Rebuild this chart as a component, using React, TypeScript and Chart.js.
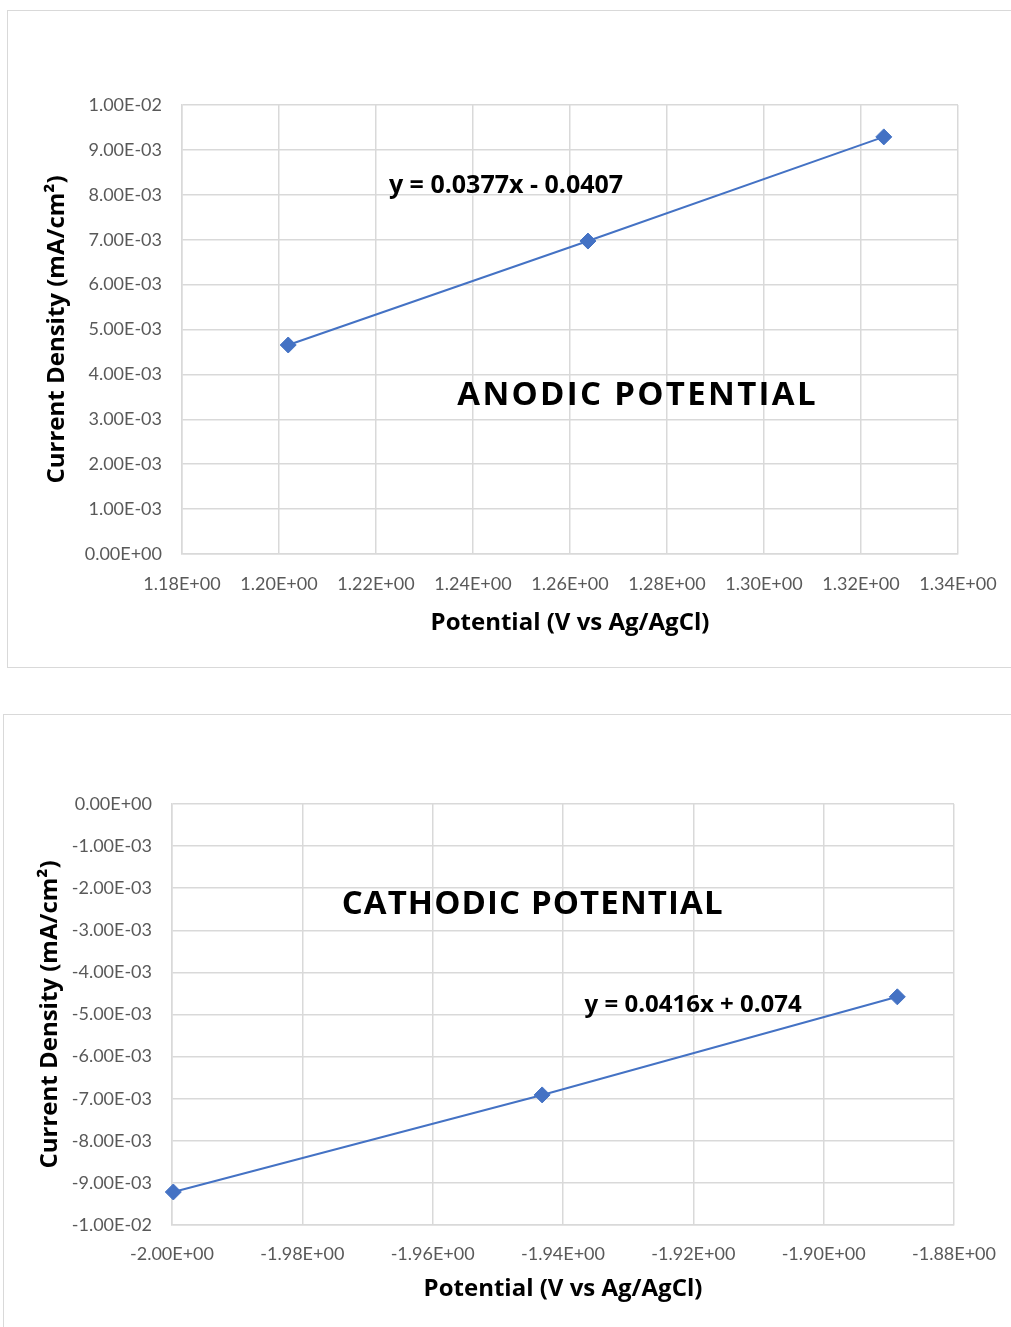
import React, { useEffect, useRef } from "react";
import { Chart, registerables } from "chart.js";

Chart.register(...registerables);

// Anodic polarisation data
const anodicPotential = [1.2019, 1.2637, 1.3247];
const anodicCurrent = [0.004655, 0.00697, 0.00929];
const anodicXTicks = [1.18, 1.2, 1.22, 1.24, 1.26, 1.28, 1.3, 1.32, 1.34];
const anodicYTicks = [0, 0.001, 0.002, 0.003, 0.004, 0.005, 0.006, 0.007, 0.008, 0.009, 0.01];
const anodicEquation = "y = 0.0377x - 0.0407";
const anodicTitle = "ANODIC POTENTIAL";

// Cathodic polarisation data
const cathodicPotential = [-1.9998, -1.9432, -1.8887];
const cathodicCurrent = [-0.009216, -0.00691, -0.00458];
const cathodicXTicks = [-2.0, -1.98, -1.96, -1.94, -1.92, -1.9, -1.88];
const cathodicYTicks = [-0.01, -0.009, -0.008, -0.007, -0.006, -0.005, -0.004, -0.003, -0.002, -0.001, 0];
const cathodicEquation = "y = 0.0416x + 0.074";
const cathodicTitle = "CATHODIC POTENTIAL";

const xAxisTitle = "Potential (V vs Ag/AgCl)";
const yAxisTitle = "Current Density (mA/cm²)";

const FONT = "Lato, 'Open Sans', sans-serif";
const BOLD_FONT = "'Open Sans', 'Noto Sans', sans-serif";
const GRID = "#d9d9d9";
const SERIES = "#4472C4";

// Excel-style scientific notation: 1.00E-02
function sci(v: number): string {
  const s = v.toExponential(2);
  const [m, e] = s.split("e");
  const sign = e[0] === "-" ? "-" : "+";
  const digits = e.replace(/[+-]/, "").padStart(2, "0");
  return `${m}E${sign}${digits}`;
}

type Note = { text: string; x: number; y: number; size: number; spacing: number };

type PanelProps = {
  xs: number[];
  ys: number[];
  xTicks: number[];
  yTicks: number[];
  notes: Note[];
  box: { left: number; top: number; width: number; height: number };
  area: { left: number; top: number; right: number; bottom: number };
  xTitlePad: number;
  yTitlePad: number;
  xTickPad: number;
};

function Panel(props: PanelProps) {
  const ref = useRef<HTMLCanvasElement | null>(null);
  useEffect(() => {
    const canvas = ref.current;
    if (!canvas) return;
    const { box, area } = props;
    const notePlugin = {
      id: "notes",
      afterDraw(chart: any) {
        const ctx = chart.ctx;
        ctx.save();
        ctx.fillStyle = "#000";
        ctx.textAlign = "center";
        ctx.textBaseline = "middle";
        for (const n of props.notes) {
          ctx.font = `bold ${n.size}px ${BOLD_FONT}`;
          (ctx as any).letterSpacing = `${n.spacing}px`;
          const px = chart.scales.x.getPixelForValue(n.x);
          const py = chart.scales.y.getPixelForValue(n.y);
          ctx.fillText(n.text, px + n.spacing / 2, py);
        }
        ctx.restore();
      },
    };
    const chart = new Chart(canvas, {
      type: "scatter",
      data: {
        datasets: [
          {
            data: props.xs.map((x, i) => ({ x, y: props.ys[i] })),
            showLine: true,
            clip: false,
            borderColor: SERIES,
            backgroundColor: SERIES,
            borderWidth: 2,
            pointStyle: "rectRot",
            pointRadius: 8,
            pointHoverRadius: 8,
            pointBorderWidth: 1,
          },
        ],
      },
      options: {
        animation: false,
        responsive: false,
        layout: {
          padding: { left: 0, top: area.top, right: box.width - area.right, bottom: 0 },
        },
        plugins: { legend: { display: false }, tooltip: { enabled: false } },
        scales: {
          x: {
            type: "linear",
            min: props.xTicks[0],
            max: props.xTicks[props.xTicks.length - 1],
            afterBuildTicks: (s: any) => {
              s.ticks = props.xTicks.map((v) => ({ value: v }));
            },
            afterFit: (s: any) => {
              s.height = box.height - area.bottom;
            },
            grid: { color: GRID, lineWidth: 1.5, drawTicks: false },
            border: { color: GRID, width: 1.5 },
            ticks: {
              padding: props.xTickPad,
              color: "#595959",
              font: { family: FONT, size: 18 },
              maxRotation: 0,
              autoSkip: false,
              callback: (v: any) => sci(Number(v)),
            },
            title: {
              display: true,
              text: xAxisTitle,
              color: "#000",
              font: { family: BOLD_FONT, size: 24, weight: "bold" },
              padding: { top: 0, bottom: props.xTitlePad },
            },
          },
          y: {
            type: "linear",
            min: props.yTicks[0],
            max: props.yTicks[props.yTicks.length - 1],
            afterBuildTicks: (s: any) => {
              s.ticks = props.yTicks.map((v) => ({ value: v }));
            },
            afterFit: (s: any) => {
              s.width = area.left;
            },
            grid: { color: GRID, lineWidth: 1.5, drawTicks: false },
            border: { color: GRID, width: 1.5 },
            ticks: {
              padding: 20,
              color: "#595959",
              font: { family: FONT, size: 18 },
              autoSkip: false,
              callback: (v: any) => sci(Number(v)),
            },
            title: {
              display: true,
              text: yAxisTitle,
              color: "#000",
              font: { family: BOLD_FONT, size: 24, weight: "bold" },
              padding: { top: props.yTitlePad, bottom: 0 },
            },
          },
        },
      } as any,
      plugins: [notePlugin],
    });
    return () => chart.destroy();
  }, []);

  const { box } = props;
  return (
    <div
      style={{
        position: "absolute",
        left: box.left,
        top: box.top,
        width: box.width,
        height: box.height,
        border: `1px solid ${GRID}`,
        boxSizing: "border-box",
        background: "#fff",
      }}
    >
      <canvas
        ref={ref}
        width={box.width}
        height={box.height}
        style={{ position: "absolute", left: -1, top: -1, width: box.width, height: box.height }}
      />
    </div>
  );
}

export default function App() {
  return (
    <div
      style={{
        position: "absolute",
        left: 0,
        top: 0,
        width: 1011,
        height: 1327,
        overflow: "hidden",
        background: "#fff",
      }}
    >
      <Panel
        xs={anodicPotential}
        ys={anodicCurrent}
        xTicks={anodicXTicks}
        yTicks={anodicYTicks}
        notes={[
          { text: anodicEquation, x: 1.2468, y: 0.0082, size: 25, spacing: 0 },
          { text: anodicTitle, x: 1.2737, y: 0.00352, size: 33, spacing: 2.3 },
        ]}
        box={{ left: 7, top: 10, width: 1014, height: 658 }}
        area={{ left: 175, top: 95, right: 951, bottom: 544 }}
        xTitlePad={30}
        yTitlePad={36}
        xTickPad={19}
      />
      <Panel
        xs={cathodicPotential}
        ys={cathodicCurrent}
        xTicks={cathodicXTicks}
        yTicks={cathodicYTicks}
        notes={[
          { text: cathodicTitle, x: -1.94474, y: -0.0024, size: 33, spacing: 1.1 },
          { text: cathodicEquation, x: -1.92003, y: -0.00477, size: 24, spacing: 0 },
        ]}
        box={{ left: 3, top: 714, width: 1018, height: 620 }}
        area={{ left: 169, top: 90, right: 951, bottom: 511 }}
        xTitlePad={30}
        yTitlePad={33}
        xTickPad={18}
      />
    </div>
  );
}
